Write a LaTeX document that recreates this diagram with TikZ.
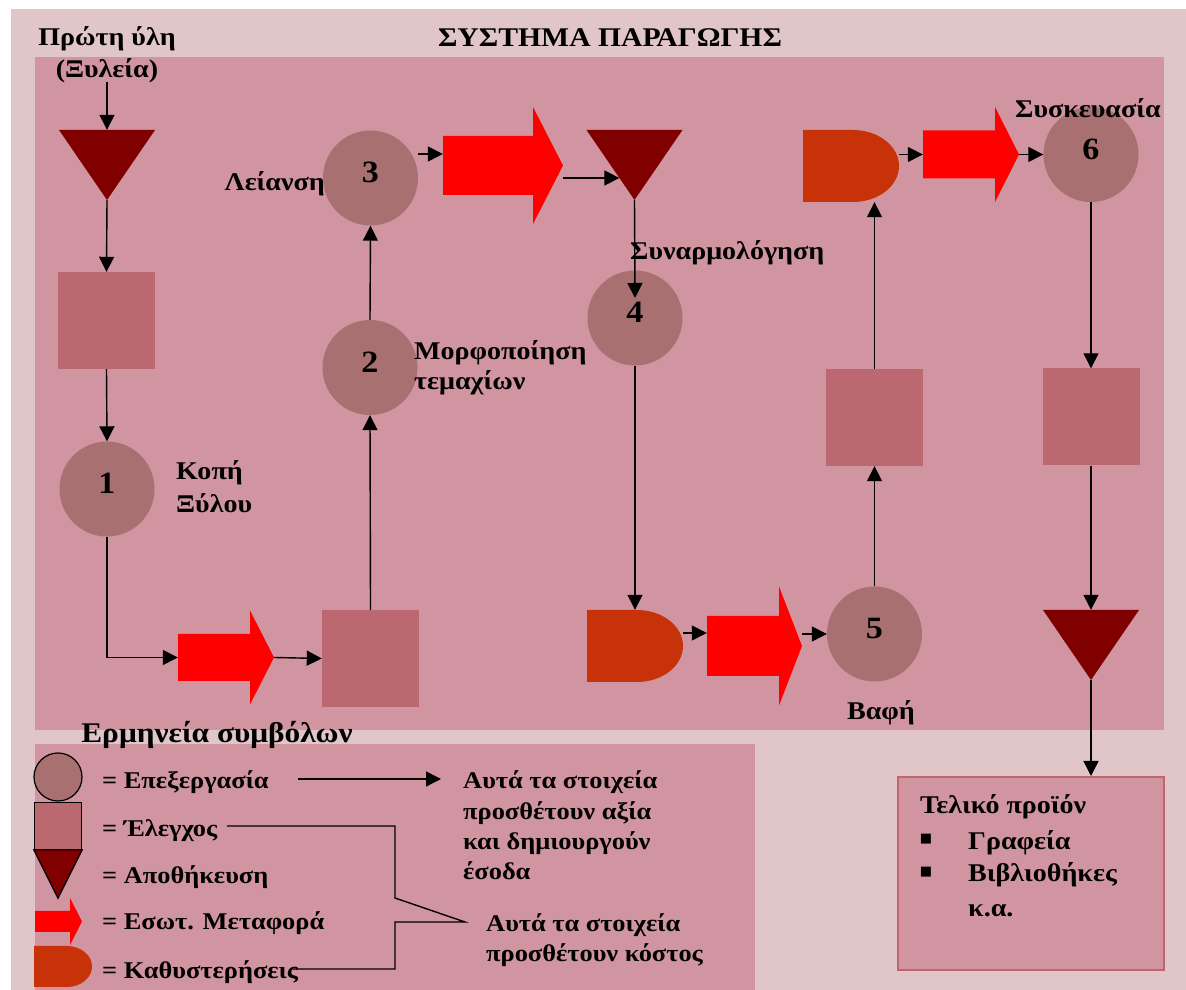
\documentclass[tikz,border=0pt]{standalone}
\usepackage{fontspec}
\setmainfont{Liberation Serif}[FakeStretch=1.1]
\newfontfamily\bulletfont{DejaVu Sans}
\usetikzlibrary{calc,arrows.meta}

\definecolor{outerbg}{HTML}{E0C5C9}
\definecolor{mainbg}{HTML}{D095A0}
\definecolor{circc}{HTML}{A87070}
\definecolor{sqc}{HTML}{BC6870}
\definecolor{tric}{HTML}{800000}
\definecolor{delayc}{HTML}{C83208}
\definecolor{arrc}{HTML}{FF0000}
\definecolor{fbborder}{HTML}{C0646E}

\newcommand\mylbl{\bfseries\fontsize{25.5}{30}\selectfont}
\newcommand\mynum{\bfseries\fontsize{31}{36}\selectfont}
\newcommand\mytitle{\bfseries\fontsize{27}{32}\selectfont}
\newcommand\mylgtitle{\bfseries\fontsize{28.5}{33}\selectfont}
\newcommand\mylegend{\bfseries\fontsize{24}{28}\selectfont}

\tikzset{
  conn/.style={line width=1.4pt, -{Triangle[length=15pt,width=15pt]}},
  plainline/.style={line width=1.4pt},
  txt/.style={inner sep=0pt, font=\mylbl, text height=16pt, text depth=3.4pt},
  lgtxt/.style={inner sep=0pt, font=\mylegend, text height=16pt, text depth=3.4pt},
  proc/.style={circle, fill=circc, minimum size=95pt, inner sep=0pt, font=\mynum,
    text height=21pt, text depth=11pt},
  ctrl/.style={rectangle, fill=sqc, minimum width=97pt, minimum height=97pt, inner sep=0pt},
  store/.style={rectangle, inner sep=0pt, minimum width=96pt, minimum height=70pt,
    path picture={\fill[tric] (path picture bounding box.north west)
      -- (path picture bounding box.north east)
      -- (path picture bounding box.south) -- cycle;}},
  delay/.style 2 args={rectangle, inner sep=0pt,
    path picture={\fill[delayc] (path picture bounding box.north west)
      -- ($(path picture bounding box.north east)+(-#1,0)$)
      arc[start angle=90, end angle=-90, x radius=#1, y radius=#2]
      -- (path picture bounding box.south west) -- cycle;}},
  fat/.style 2 args={rectangle, inner sep=0pt,
    path picture={\fill[arrc] ($(path picture bounding box.west)+(0,#1)$)
      -- ($(path picture bounding box.east)+(-#2,#1)$)
      -- ($(path picture bounding box.north east)+(-#2,0)$)
      -- (path picture bounding box.east)
      -- ($(path picture bounding box.south east)+(-#2,0)$)
      -- ($(path picture bounding box.east)+(-#2,-#1)$)
      -- ($(path picture bounding box.west)+(0,-#1)$) -- cycle;}},
  finalbox/.style={rectangle, draw=fbborder, line width=2pt, fill=mainbg,
    minimum width=266pt, minimum height=193pt, inner sep=0pt},
}

\begin{document}
\begin{tikzpicture}[x=1pt,y=1pt]
% page and panels
\path[use as bounding box, fill=white] (0,0) rectangle (1186,990);
\fill[outerbg] (11,0) rectangle (1186,981);
\fill[mainbg] (35,260) rectangle (1164,933);
\fill[mainbg] (35,0) rectangle (755,246);

% process chain
\node[store] (t1) at (107,825) {};
\node[ctrl] (s1) at (106.5,669.5) {};
\node[proc] (c1) at (107,501) {1};
\node[fat={23.5}{24}, minimum width=96pt, minimum height=94pt] (ar1) at (226,332.5) {};
\node[ctrl] (s2) at (370.5,331.5) {};
\node[proc] (c2) at (370,622.5) {2};
\node[proc] (c3) at (370.5,812) {3};
\node[fat={29.5}{30}, minimum width=120pt, minimum height=117pt] (ar2) at (503,824.5) {};
\node[store] (t2) at (634.5,825) {};
\node[proc] (c4) at (635,672) {4};
\node[delay={46}{36}, minimum width=96pt, minimum height=72pt] (d1) at (635,344) {};
\node[fat={30}{23}, minimum width=95pt, minimum height=119pt] (ar3) at (754.5,344) {};
\node[proc] (c5) at (874.5,356) {5};
\node[ctrl] (s3) at (874.5,572.5) {};
\node[delay={46}{36}, minimum width=96pt, minimum height=72pt] (d2) at (851,824) {};
\node[fat={24}{24}, minimum width=96pt, minimum height=95pt] (ar4) at (971,835.5) {};
\node[proc] (c6) at (1091,835.5) {6};
\node[ctrl] (s4) at (1091,573) {};
\node[store] (t3) at (1091,345) {};
\node[finalbox] (fb) at (1031,116.5) {};

% connectors
\coordinate (src) at (107,908);
\draw[conn] (src) -- (t1.north);
\draw[conn] (t1.south) -- (s1.north);
\draw[conn] (s1.south) -- (c1.north);
\draw[conn] (c1.south) |- (ar1.west);
\draw[conn] (ar1.east) -- (s2.west);
\draw[conn] (s2.north) -- (c2.south);
\draw[conn] (c2.north) -- (c3.south);
\coordinate (ar2in) at ($(ar2.west)+(0,11.5)$);
\draw[conn] (c3.east |- ar2in) -- (ar2in);
\coordinate (ar2out) at ($(ar2.east)+(0,-12.5)$);
\coordinate (t2hit) at ($(t2.north west)!0.686!(t2.south)$);
\draw[conn] (ar2out) -- (ar2out -| t2hit);
\coordinate (c4in) at ($(c4.center)+(0,20)$);
\draw[conn] (t2.south) -- (c4in);
\draw[conn] (c4.south) -- (d1.north);
\coordinate (ar3in) at ($(ar3.west)+(0,13)$);
\draw[conn] (d1.east |- ar3in) -- (ar3in);
\draw[conn] (ar3.east |- c5.west) -- (c5.west);
\draw[conn] (c5.north) -- (s3.south);
\draw[conn] (s3.north) -- (s3.north |- d2.south);
\draw[conn] (d2.east |- ar4.west) -- (ar4.west);
\draw[conn] (ar4.east) -- (c6.west);
\draw[conn] (c6.south) -- (s4.north);
\draw[conn] (s4.south) -- (t3.north);
\draw[conn] (t3.south) -- (t3.south |- fb.north);

% labels
\node[txt, font=\mytitle] (title) at (610,950) {ΣΥΣΤΗΜΑ ΠΑΡΑΓΩΓΗΣ};
\node[txt] (raw1) at (107,951) {Πρώτη ύλη};
\node[txt] (raw2) at (107,919) {(Ξυλεία)};
\node[txt, anchor=east] (lleia) at (325,806) {Λείανση};
\node[txt, anchor=west] (lkopi) at (176,517) {Κοπή};
\node[txt, anchor=west] (lxyl) at (176,484) {Ξύλου};
\node[txt, anchor=west] (lmorf) at (414,637) {Μορφοποίηση};
\node[txt, anchor=west] (ltem) at (414,607) {τεμαχίων};
\node[txt, anchor=west] (lsyn) at (630,737) {Συναρμολόγηση};
\node[txt, anchor=west] (lsysk) at (1015,879) {Συσκευασία};
\node[txt] (lvafi) at (881,277) {Βαφή};

% legend
\node[txt, font=\mylgtitle] (lgt) at (217,254) {Ερμηνεία συμβόλων};
\node[circle, draw=black, line width=1.2pt, fill=circc, minimum size=48pt, inner sep=0pt] (lc) at (58,213) {};
\node[rectangle, draw=black, line width=1.2pt, fill=sqc, minimum size=47pt, inner sep=0pt] (ls) at (58,164) {};
\node[rectangle, minimum width=48pt, minimum height=48pt, inner sep=0pt] (lt) at (58,116) {};
\filldraw[fill=tric, draw=black, line width=1.2pt] (lt.north west) -- (lt.north east) -- (lt.south) -- cycle;
\node[fat={10.5}{12}, minimum width=47pt, minimum height=47pt] (la) at (58.5,68.5) {};
\node[delay={25}{20.5}, minimum width=58pt, minimum height=41pt] (ld) at (63,23.5) {};

\node[lgtxt, anchor=west] (e1) at (102,208) {= Επεξεργασία};
\node[lgtxt, anchor=west] (e2) at (102,160) {= Έλεγχος};
\node[lgtxt, anchor=west] (e3) at (102,113) {= Αποθήκευση};
\node[lgtxt, anchor=west] (e4) at (102,67) {= Εσωτ. Μεταφορά};
\node[lgtxt, anchor=west] (e5) at (102,18) {= Καθυστερήσεις};

\coordinate (va) at (298,211);
\coordinate (vb) at (441,211);
\draw[conn] (va) -- (vb);
\node[lgtxt, anchor=west] (v1) at (463,208) {Αυτά τα στοιχεία};
\node[lgtxt, anchor=west] (v2) at (463,177) {προσθέτουν αξία};
\node[lgtxt, anchor=west] (v3) at (463,147) {και δημιουργούν};
\node[lgtxt, anchor=west] (v4) at (463,117) {έσοδα};

\coordinate (b1) at (227,164);
\coordinate (b2) at (395,164);
\coordinate (b3) at (395,92);
\coordinate (b4) at (465,68);
\coordinate (b5) at (395,68);
\coordinate (b6) at (395,21);
\coordinate (b7) at (291,21);
\draw[plainline] (b1) -- (b2) -- (b3) -- (b4) -- (b5) -- (b6) -- (b7);
\node[lgtxt, anchor=west] (k1) at (486,65) {Αυτά τα στοιχεία};
\node[lgtxt, anchor=west] (k2) at (486,35) {προσθέτουν κόστος};

% final product
\node[txt, anchor=west] (fp) at (920,183) {Τελικό προϊόν};
\node[inner sep=0pt, font=\bulletfont\fontsize{13}{13}\selectfont] (bu1) at (926,150.5) {■};
\node[inner sep=0pt, font=\bulletfont\fontsize{13}{13}\selectfont] (bu2) at (926,117.5) {■};
\node[txt, anchor=west] (fp1) at (968,147) {Γραφεία};
\node[txt, anchor=west] (fp2) at (968,115) {Βιβλιοθήκες};
\node[txt, anchor=west] (fp3) at (968,80) {κ.α.};
\end{tikzpicture}
\end{document}
